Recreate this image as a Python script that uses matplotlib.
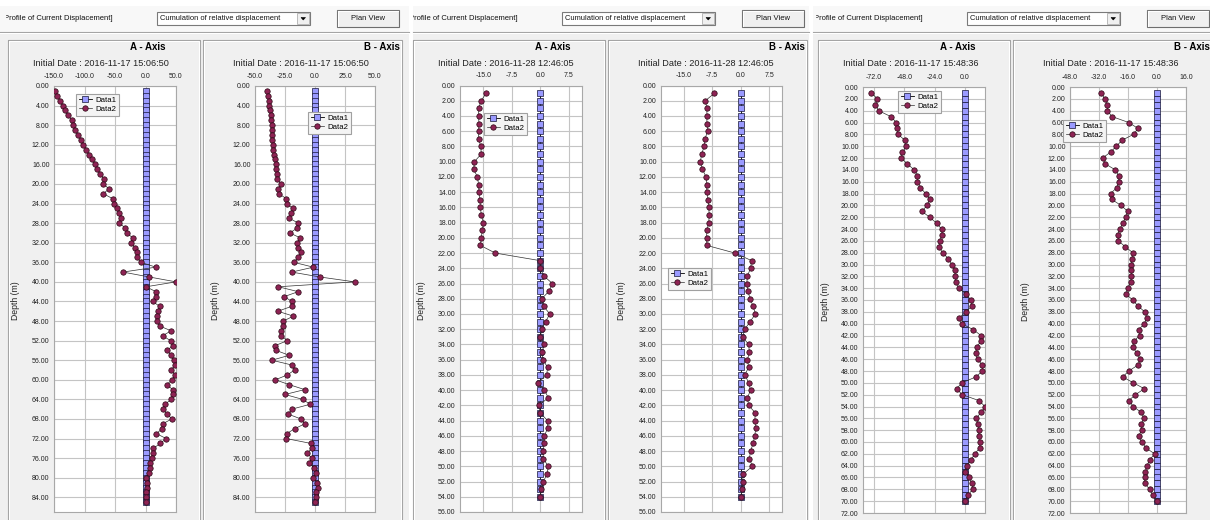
import matplotlib.pyplot as plt
from matplotlib import font_manager
from matplotlib.patches import Rectangle, Polygon

W, H = 1210, 520

# depth of each reading (m)
ss1_depth = list(range(1, 86))
ss2_depth = list(range(1, 55))
ss3_depth = list(range(1, 71))

ss1_date = "2016-11-17 15:06:50"
ss2_date = "2016-11-28 12:46:05"
ss3_date = "2016-11-17 15:48:36"

# Data1 sits on the zero line in every panel
ss1_data1 = [0.0] * len(ss1_depth)
ss2_data1 = [0.0] * len(ss2_depth)
ss3_data1 = [0.0] * len(ss3_depth)

# Data2 (mm), one value per depth
ss1_a_data2 = [-149, -144.5, -140, -136, -132, -127, -121, -119, -115, -111,
               -106, -102, -97, -93, -88, -83, -79, -74, -68, -69,
               -60, -69, -54, -52, -46, -43, -40, -43, -33, -31,
               -21, -24, -17, -14, -14, -8, 17, -37, 6, 50,
               1, 17, 17, 12, 23, 21, 19, 19, 23, 42,
               28, 41, 44.5, 36, 41, 46, 48, 42, 49, 43,
               35, 44.5, 44.5, 42, 32, 28, 36, 43, 28, 27,
               18, 34, 24, 13, 12, 10, 8, 8, 5, 0.5,
               3, 2, 1, 1, 0.5]
ss1_b_data2 = [-40, -39.4, -38.6, -38, -37.5, -37, -36.4, -36, -36, -36,
               -35.5, -35, -34.7, -34, -33, -32.8, -32.5, -32, -32, -28,
               -30.5, -30, -24, -23.6, -18.6, -20, -21.4, -14, -14.7, -21,
               -12.5, -14.7, -14, -11.7, -14, -17.8, -1.4, -19.4, 4, 33,
               -30.5, -14, -25.5, -19.4, -19.4, -31, -18, -26.4, -26.4, -28,
               -28, -23, -33, -32.5, -21.4, -36, -19, -17, -23, -33,
               -21.4, -8.6, -25, -10.3, -4, -19.4, -22.5, -11.7, -8.6, -17,
               -23.6, -24, -3.3, -2.8, -6.4, -2.8, -4.7, -0.8, 0.8, -1.4,
               2, 2.2, 0.8, 0.5, 0.3]
ss2_a_data2 = [-14.3, -15.6, -16.3, -16.3, -16.2, -16.3, -16.3, -15.7, -15.6, -17.4,
               -17.6, -16.6, -16.3, -16.2, -16.0, -15.8, -15.6, -15.0, -15.3, -15.6,
               -15.8, -11.9, 0.0, 0.0, 0.9, 3.2, 2.3, 0.4, 0.9, 2.5,
               1.4, 0.4, 0.0, 1.1, 0.4, 0.7, 1.9, 1.7, -0.6, 1.1,
               2.1, -0.4, 0.0, 1.9, 1.9, 1.1, 1.1, 0.7, 0.8, 2.1,
               1.8, 0.8, 0.3, 0.0]
ss2_b_data2 = [-6.9, -9.3, -8.9, -8.9, -8.9, -8.7, -9.4, -9.6, -10.3, -10.6,
               -10.1, -9.1, -9.0, -8.9, -8.6, -8.4, -8.3, -8.4, -8.9, -9.0,
               -8.9, -1.5, 2.9, 2.6, 1.8, 1.6, 1.9, 2.5, 3.3, 3.9,
               2.5, 1.1, 0.5, 2.1, 2.3, 1.8, 2.1, 1.1, 2.1, 2.6,
               1.8, 2.1, 3.9, 3.7, 4.0, 3.7, 3.3, 2.6, 2.3, 3.1,
               0.7, 0.5, 0.4, 0.0]
ss3_a_data2 = [-74, -69.3, -70.9, -68.3, -58.7, -54.2, -53.7, -52.9, -47.6, -46.3,
               -49.5, -50.5, -45.5, -40.2, -37.6, -37.6, -35.2, -31.2, -27.8, -29.9,
               -34.1, -28, -22.5, -18.5, -18, -19.8, -20.6, -17.7, -13.2, -10.3,
               -7.9, -7.9, -6.9, -4.8, 0.8, 4.8, 5.6, 0.8, -4.5, -2.6,
               6.6, 12.7, 12.4, 9.3, 8.5, 10, 13.8, 13.8, 8.7, -2.4,
               -6.6, -2.1, 11.1, 15.9, 12.7, 9, 10.6, 11.1, 10.8, 11.6,
               11.6, 7.9, 4.8, 1.9, -0.3, 3.2, 5.8, 6.1, 2.4, 0]
ss3_b_data2 = [-30.7, -28.9, -27.4, -27.4, -24.8, -15.6, -10.5, -12.9, -19.3, -22.4,
               -25.6, -30, -28.5, -23, -21.1, -21.1, -22.1, -25.6, -25, -19.9,
               -16.2, -17.1, -18.9, -20.4, -21.7, -21.3, -17.5, -13.4, -13.8, -14.2,
               -14.2, -14.2, -14.5, -16, -17.1, -13.4, -10.5, -6.8, -5.5, -7,
               -10.1, -9.6, -12.9, -13.4, -11, -9.2, -10.5, -15.6, -18.9, -13,
               -7, -11.9, -15.6, -13, -8.8, -7, -8.8, -8.5, -10.1, -8.3,
               -6.1, -1.3, -4, -5.5, -6.4, -6.8, -6.8, -4, -2.2, 0]

ss1_a_ticks = [-150, -100, -50, 0, 50]
ss1_b_ticks = [-50, -25, 0, 25, 50]
ss2_ticks = [-15, -7.5, 0, 7.5]
ss3_a_ticks = [-72, -48, -24, 0]
ss3_b_ticks = [-48, -32, -16, 0, 16]

names = {f.name for f in font_manager.fontManager.ttflist}
SMALL = 'Liberation Sans Narrow' if 'Liberation Sans Narrow' in names else 'Liberation Sans'
TICK_FS = 5.9 if SMALL == 'Liberation Sans Narrow' else 5.0
plt.rcParams['font.family'] = ['Liberation Sans', 'DejaVu Sans']

BG = '#f0f0f0'

fig = plt.figure(figsize=(W / 100, H / 100), dpi=100, facecolor='white')
bg = fig.add_axes([0, 0, 1, 1])
bg.set_xlim(0, W)
bg.set_ylim(H, 0)
bg.axis('off')

# screenshot areas: (visible left, visible right, layout origin, left cut of the caption)
screens = [(0, 409, 8, 6, ss1_date), (413, 809, 413, 413, ss2_date),
           (813, 1210, 818, 816, ss3_date)]


def clipped(artist, sx0, sx1):
    r = Rectangle((sx0, 0), sx1 - sx0, H, transform=bg.transData)
    artist.set_clip_on(True)
    artist.set_clip_path(r)
    return artist


for sx0, sx1, o, cut, date in screens:
    bg.add_patch(Rectangle((sx0, 6), sx1 - sx0, 26, color='#f8f8f8', lw=0))
    bg.add_patch(Rectangle((sx0, 32), sx1 - sx0, H, color=BG, lw=0))
    bg.plot([sx0, sx1], [31.5, 31.5], color='#a0a0a0', lw=0.8)
    bg.plot([sx0, sx1], [32.5, 32.5], color='white', lw=0.8)
    clipped(bg.text(o - 4, 18, 'Profile of Current Displacement]', fontsize=5.5,
                    va='center', ha='left', color='#111'), cut, sx1)
    # combo box
    bg.add_patch(Rectangle((o + 149, 12), 153, 13, fc='white', ec='#7a7a7a', lw=0.8))
    bg.text(o + 152, 18.5, 'Cumulation of relative displacement', fontsize=5.4,
            va='center', ha='left', color='#111')
    bg.add_patch(Rectangle((o + 289, 13), 12, 11, fc='#f0f0f0', ec='#b0b0b0', lw=0.6))
    bg.add_patch(Polygon([(o + 293, 17.5), (o + 297.5, 17.5), (o + 295.25, 20)],
                         closed=True, fc='black', ec='black', lw=0.4))
    # Plan View button
    bg.add_patch(Rectangle((o + 329, 10), 62, 17, fc='#f0f0f0', ec='#6e6e6e', lw=0.8))
    bg.plot([o + 330, o + 390], [11, 11], color='white', lw=0.8)
    bg.plot([o + 330, o + 330], [11, 26], color='white', lw=0.8)
    clipped(bg.text(o + 360, 18.5, 'Plan View', fontsize=5.5, va='center',
                    ha='center', color='#111'), sx0, sx1)
    # etched group boxes
    for px0, px1 in [(o, o + 192), (o + 195, o + 394)]:
        bg.add_patch(clipped(Rectangle((px0, 40), px1 - px0, H), sx0, sx1))
        bg.patches[-1].set(fc='none', ec='#a0a0a0', lw=0.8)
        bg.add_patch(clipped(Rectangle((px0 + 1, 41), px1 - px0 - 2, H), sx0, sx1))
        bg.patches[-1].set(fc='none', ec='white', lw=0.8)
    clipped(bg.text(o + 140, 47, 'A - Axis', fontsize=7, fontweight='bold',
                    ha='center', va='center'), sx0, sx1)
    clipped(bg.text(o + 374, 47, 'B - Axis', fontsize=7, fontweight='bold',
                    ha='center', va='center'), sx0, sx1)
    for cx in (o + 93, o + 293):
        bg.text(cx, 63, 'Initial Date : ' + date, fontsize=6.6, ha='center',
                va='center', color='#222')

panels = [
    # (left, top, right, bottom) px, xlim, ticks, ymax, ystep, depth, data1, data2, legend corner, ylabel x
    ((54, 86, 176, 512), (-150, 50), ss1_a_ticks, 87, 4, ss1_depth, ss1_data1, ss1_a_data2, (76, 94), 15),
    ((255, 86, 375, 512), (-50, 50), ss1_b_ticks, 87, 4, ss1_depth, ss1_data1, ss1_b_data2, (308, 112), 215),
    ((460, 85.5, 582, 512), (-21.2, 11.0), ss2_ticks, 56, 2, ss2_depth, ss2_data1, ss2_a_data2, (484, 113), 422),
    ((661, 85.5, 782, 512), (-21.0, 10.9), ss2_ticks, 56, 2, ss2_depth, ss2_data1, ss2_b_data2, (668, 268), 622),
    ((863, 87, 985, 513), (-80.7, 15.9), ss3_a_ticks, 72, 2, ss3_depth, ss3_data1, ss3_a_data2, (898, 91), 825),
    ((1070, 87, 1186, 513), (-48, 16), ss3_b_ticks, 72, 2, ss3_depth, ss3_data1, ss3_b_data2, (1063, 120), 1025),
]

for (x0, y0, x1, y1), xlim, xt, ymax, ystep, depth, d1, d2, (lx, ly), ylx in panels:
    ax = fig.add_axes([x0 / W, 1 - y1 / H, (x1 - x0) / W, (y1 - y0) / H])
    ax.plot(d1, depth, color='black', lw=0.6, marker='s', ms=3.7, mfc='#9a9aff',
            mec='#151535', mew=0.5, label='Data1', zorder=3)
    ax.plot(d2, depth, color='#303030', lw=0.5, marker='o', ms=3.9, mfc='#8e2354',
            mec='#2a0814', mew=0.5, label='Data2', zorder=4)
    ax.set_xlim(*xlim)
    ax.set_ylim(ymax, 0)
    ax.xaxis.tick_top()
    ax.set_xticks(xt)
    ax.set_xticklabels([f'{v:.1f}' for v in xt])
    yt = list(range(0, int(ymax) + 1, ystep))
    ax.set_yticks(yt)
    ax.set_yticklabels([f'{v:.2f}' for v in yt])
    ax.tick_params(length=0, labelsize=TICK_FS, colors='#222', labelfontfamily=SMALL)
    ax.tick_params(axis='x', pad=4.5)
    ax.tick_params(axis='y', pad=3.2)
    ax.grid(True, color='#c4c4c4', lw=0.8)
    ax.set_axisbelow(True)
    for s in ax.spines.values():
        s.set_color('#a8a8a8')
        s.set_linewidth(0.8)
    fx = (lx - x0) / (x1 - x0)
    fy = 1 - (ly - y0) / (y1 - y0)
    leg = ax.legend(loc='upper left', bbox_to_anchor=(fx, fy), borderaxespad=0,
                    fontsize=5.6, frameon=True, fancybox=False, edgecolor='#a0a0a0',
                    facecolor='#f4f4f4', framealpha=1, handlelength=1.7,
                    handletextpad=0.4, borderpad=0.35, labelspacing=0.15)
    leg.get_frame().set_linewidth(0.8)
    bg.text(ylx, (y0 + y1) / 2 + 2, 'Depth (m)', rotation=90, fontsize=6.2,
            ha='center', va='center', color='#222')

fig.savefig('out.png', dpi=100, facecolor='white')
